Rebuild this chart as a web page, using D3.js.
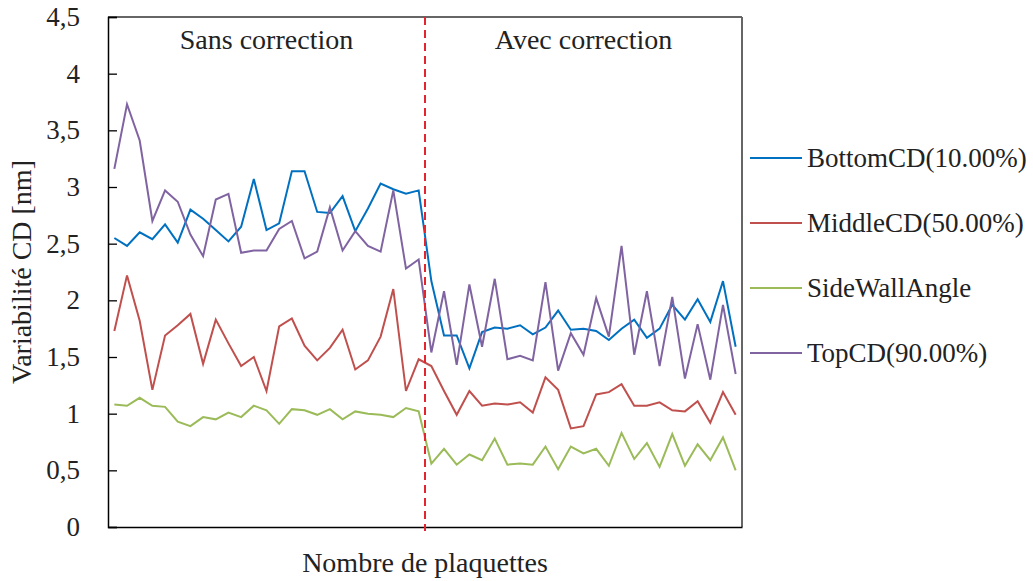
<!DOCTYPE html>
<html><head><meta charset="utf-8">
<script src="https://cdn.jsdelivr.net/npm/d3@7"></script>
<style>body{margin:0;background:#fff}svg{display:block}</style>
</head><body><svg id="c" width="1033" height="581"></svg>
<script>
const seriesNames = ["BottomCD(10.00%)","MiddleCD(50.00%)","SideWallAngle","TopCD(90.00%)"];
const bottomCD = [2.55,2.48,2.60,2.54,2.67,2.51,2.80,2.72,2.62,2.52,2.65,3.07,2.62,2.68,3.14,3.14,2.78,2.77,2.92,2.61,2.81,3.03,2.98,2.94,2.97,2.17,1.69,1.69,1.40,1.72,1.76,1.75,1.78,1.70,1.76,1.91,1.74,1.75,1.73,1.65,1.75,1.83,1.67,1.75,1.96,1.83,2.01,1.81,2.17,1.59];
const middleCD = [1.73,2.22,1.82,1.21,1.69,1.78,1.88,1.44,1.83,1.62,1.42,1.50,1.20,1.77,1.84,1.60,1.47,1.58,1.74,1.39,1.47,1.68,2.10,1.20,1.48,1.42,1.20,0.99,1.20,1.07,1.09,1.08,1.10,1.01,1.32,1.21,0.87,0.89,1.17,1.19,1.26,1.07,1.07,1.10,1.03,1.02,1.11,0.92,1.19,0.99];
const sideWallAngle = [1.08,1.07,1.14,1.07,1.06,0.93,0.89,0.97,0.95,1.01,0.97,1.07,1.03,0.91,1.04,1.03,0.99,1.04,0.95,1.02,1.00,0.99,0.97,1.05,1.02,0.56,0.69,0.55,0.64,0.59,0.78,0.55,0.56,0.55,0.71,0.51,0.71,0.65,0.69,0.54,0.83,0.60,0.74,0.53,0.82,0.54,0.73,0.59,0.79,0.50];
const topCD = [3.16,3.73,3.41,2.70,2.97,2.87,2.58,2.39,2.89,2.94,2.42,2.44,2.44,2.63,2.70,2.37,2.43,2.82,2.44,2.61,2.48,2.43,2.97,2.28,2.36,1.54,2.08,1.43,2.14,1.59,2.19,1.48,1.51,1.47,2.16,1.38,1.71,1.52,2.02,1.68,2.48,1.52,2.08,1.42,2.03,1.31,1.79,1.30,1.96,1.35];
const yTicks = [0,0.5,1,1.5,2,2.5,3,3.5,4,4.5];
const phaseLabels = ["Sans correction","Avec correction"];
const splitIndex = 25;
const xTitle = "Nombre de plaquettes";
const yTitle = "Variabilité CD [nm]";

const colors = ["#0070C0","#C0504D","#9BBB59","#8064A2"];
const allSeries = [bottomCD, middleCD, sideWallAngle, topCD];
const FONT = "'Liberation Serif', Tinos, 'Times New Roman', serif";
const TXT = "#222";

const L=108, R=742, T=17, B=527;
const svg = d3.select("#c");
const idx = d3.range(bottomCD.length);
const x = d3.scalePoint().domain(idx).range([L,R]).padding(0.5);
const y = d3.scaleLinear().domain([0,4.5]).range([B,T]);
const fr = d3.formatLocale({decimal:",",thousands:" ",grouping:[3],currency:["","€"]});
const fmt = v => fr.format("~g")(v);

function label(sel, size){ return sel.attr("font-family",FONT).style("font-family",FONT).attr("font-size",size).attr("fill",TXT); }

// frame top/right
svg.append("line").attr("x1",L).attr("x2",R).attr("y1",T).attr("y2",T).attr("stroke","#333").attr("stroke-width",1.5);
svg.append("line").attr("x1",R).attr("x2",R).attr("y1",T).attr("y2",B).attr("stroke","#666").attr("stroke-width",2);

// y axis
const ya = svg.append("g").attr("transform",`translate(${L},0)`)
  .call(d3.axisLeft(y).tickValues(yTicks).tickSize(-9).tickPadding(28).tickFormat(fmt));
ya.attr("font-family",FONT);
ya.select(".domain").attr("stroke","#000").attr("stroke-width",1.5);
ya.selectAll(".tick line").attr("stroke","#000").attr("stroke-width",1.3);
label(ya.selectAll(".tick text"),27);

// x axis
const xa = svg.append("g").attr("transform",`translate(0,${B})`)
  .call(d3.axisBottom(x).tickValues([]).tickSizeOuter(0));
xa.select(".domain").attr("stroke","#000").attr("stroke-width",1.5);

// lines
const line = d3.line().x((d,i)=>x(i)).y(d=>y(d));
allSeries.forEach((s,k)=>{
  svg.append("path").datum(s).attr("d",line).attr("fill","none")
    .attr("stroke",colors[k]).attr("stroke-width",2).attr("stroke-linejoin","miter");
});

// split line
const sx = (x(splitIndex-1)+x(splitIndex))/2;
svg.append("line").attr("x1",sx).attr("x2",sx).attr("y1",T).attr("y2",B+4)
  .attr("stroke","#E3262E").attr("stroke-width",2).attr("stroke-dasharray","8,5");

// phase labels
label(svg.append("text"),28).attr("x",(L+sx)/2).attr("y",49).attr("text-anchor","middle").text(phaseLabels[0]);
label(svg.append("text"),28).attr("x",(sx+R)/2).attr("y",49).attr("text-anchor","middle").text(phaseLabels[1]);

// axis titles
label(svg.append("text"),28).attr("x",425).attr("y",572).attr("text-anchor","middle").text(xTitle);
label(svg.append("text"),28).attr("transform",`translate(31,${(T+B)/2}) rotate(-90)`).attr("text-anchor","middle").text(yTitle);

// legend
seriesNames.forEach((n,k)=>{
  const ly = 158 + k*65;
  svg.append("line").attr("x1",750).attr("x2",802).attr("y1",ly).attr("y2",ly).attr("stroke",colors[k]).attr("stroke-width",2);
  label(svg.append("text"),27).attr("x",807).attr("y",ly+9).text(n);
});
</script></body></html>
